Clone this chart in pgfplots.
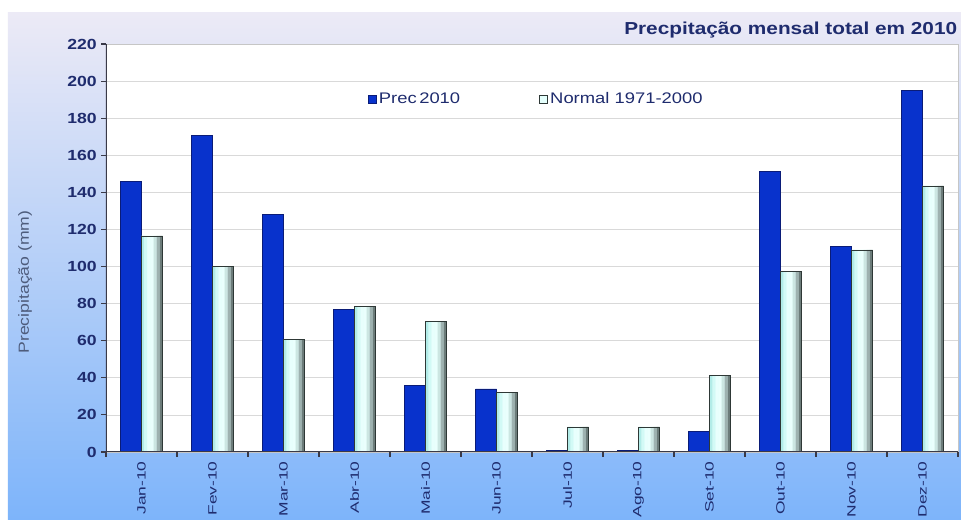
\documentclass[border=0pt]{standalone}
\usepackage{pgfplots}
\usepackage{pgfplotstable}
\pgfplotsset{compat=1.18}
\usepackage{fontspec}
\setmainfont[FakeStretch=1.2]{Liberation Sans}
\newfontfamily\xlabfont[FakeStretch=1.45]{Liberation Sans}

\definecolor{bgtop}{HTML}{ECEAF6}
\definecolor{bgbot}{HTML}{7DB4FA}
\definecolor{navy}{HTML}{1F2C6E}
\definecolor{precblue}{HTML}{0832CC}
\definecolor{precedge}{HTML}{0A1C78}
\definecolor{normM}{HTML}{E4FFFC}
\definecolor{normedge}{HTML}{2E3836}
\definecolor{axcol}{HTML}{3A3A48}
\definecolor{ylabcol}{HTML}{4E5C7C}
% strips of the shaded "Normal" bars, left to right
\definecolor{s0}{HTML}{B2ECE8}
\definecolor{s1}{HTML}{D2FAF6}
\definecolor{s2}{HTML}{E8FFFD}
\definecolor{s3}{HTML}{EAFFFD}
\definecolor{s4}{HTML}{CCE6E2}
\definecolor{s5}{HTML}{9EB2B0}
\definecolor{s6}{HTML}{6C7C7A}

\pgfplotstableread{
x prec
0 146
1 170.5
2 128
3 77
4 36
5 34
6 1
7 1
8 11
9 151.5
10 111
11 195
}\prectable

\pgfplotstableread{
x normal
0 116.5
1 100
2 60.5
3 78.5
4 70.5
5 32
6 13.5
7 13.5
8 41.5
9 97.5
10 109
11 143.5
}\normaltable

\begin{document}
\begin{tikzpicture}[x=1pt,y=1pt]
% 1 px of the reference = 0.75pt, origin = lower left corner of the plot area
\useasboundingbox (-79.5,-51) rectangle (641.25,339);
\fill[white] (-79.5,-51) rectangle (641.25,339);
\shade[top color=bgtop, bottom color=bgbot] (-73.5,-51) rectangle (641.25,329.25);

\begin{axis}[
    at={(0,0)}, anchor=south west,
    scale only axis, width=639pt, height=306pt,
    ybar=0pt, bar width=15.75pt,
    xmin=-0.5, xmax=11.5, ymin=0, ymax=220,
    axis background/.style={fill=white},
    axis line style={draw=gray!45, line width=0.6pt},
    ytick={0,20,...,220},
    ytick pos=left,
    xtick pos=bottom,
    tick align=outside,
    major tick length=3.5pt,
    tick style={draw=axcol, line width=0.8pt},
    ymajorgrids,
    grid style={draw=gray!30, line width=0.5pt},
    xtick={0,...,11},
    xticklabels={Jan-10,Fev-10,Mar-10,Abr-10,Mai-10,Jun-10,Jul-10,Ago-10,Set-10,Out-10,Nov-10,Dez-10},
    xtick style={draw=none},
    extra x ticks={-0.5,0.5,...,11.5},
    extra x tick labels={},
    extra x tick style={xtick style={draw=axcol, line width=0.8pt}},
    /pgf/number format/assume math mode=true,
    yticklabel style={font=\bfseries\fontsize{11}{12}\selectfont, text=navy},
    xticklabel style={rotate=90, anchor=east, font=\xlabfont\fontsize{9}{10}\selectfont, text=navy},
    legend style={at={(0.302,0.895)}, anchor=north west, draw=none, fill=none,
        font=\fontsize{11.5}{13}\selectfont, text=navy, legend columns=2,
        /tikz/every even column/.append style={column sep=57pt}},
    legend image code/.code={\draw[#1] (0pt,-3pt) rectangle (6pt,3pt);},
]
\addplot[fill=precblue, draw=precedge, line width=0.5pt, bar shift=-7.875pt] table[x=x, y=prec] {\prectable};
\addlegendentry{Prec\,2010}
\addplot[fill=normM, draw=normedge, line width=0.5pt, bar shift=7.875pt] table[x=x, y=normal] {\normaltable};
\addlegendentry{Normal 1971-2000}
% horizontal shading of the Normal bars, drawn as narrow strips
\pgfplotsinvokeforeach{0,...,6}{
  \addplot[forget plot, fill=s#1, draw=none, bar width=2.25pt, bar shift={1.125pt+#1*2.25pt}]
    table[x=x, y=normal] {\normaltable};
}
\addplot[forget plot, fill=none, draw=normedge, line width=0.5pt, bar shift=7.875pt] table[x=x, y=normal] {\normaltable};
\draw[axcol, line width=0.9pt] (rel axis cs:0,1) -- (rel axis cs:0,0) -- (rel axis cs:1,0);
\end{axis}

\node[rotate=90, text=ylabcol, font=\fontsize{11}{12}\selectfont] at (-60.75,127.5) {Precipitação (mm)};
\node[anchor=base west, text=navy, font=\bfseries\fontsize{13}{15}\selectfont, inner sep=0pt] at (388.5,312.75) {Precpitação mensal total em 2010};
\end{tikzpicture}
\end{document}
